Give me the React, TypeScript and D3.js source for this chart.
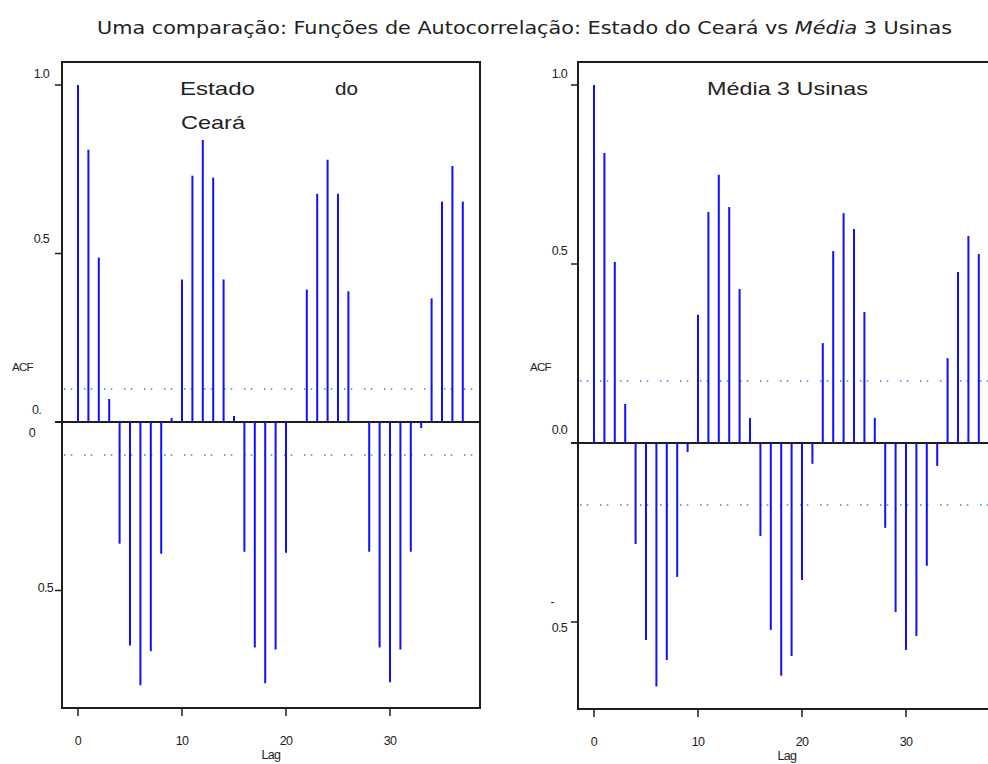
import React from "react";
import * as d3 from "d3";

// Autocorrelation values by lag (0..37)
const lags: number[] = d3.range(0, 38);

const acfCeara: number[] = [
  1.0, 0.808, 0.488, 0.068, -0.361, -0.663, -0.781, -0.68, -0.391, 0.012,
  0.423, 0.731, 0.837, 0.725, 0.423, 0.018, -0.385, -0.669, -0.775, -0.675,
  -0.388, 0.0, 0.393, 0.677, 0.778, 0.677, 0.388, 0.0, -0.385, -0.669,
  -0.772, -0.675, -0.385, -0.018, 0.367, 0.654, 0.76, 0.654,
];

const acfUsinas: number[] = [
  1.0, 0.81, 0.506, 0.109, -0.282, -0.55, -0.68, -0.606, -0.374, -0.025,
  0.358, 0.645, 0.749, 0.659, 0.43, 0.07, -0.26, -0.522, -0.65, -0.595,
  -0.383, -0.058, 0.279, 0.536, 0.642, 0.598, 0.366, 0.07, -0.237, -0.472,
  -0.578, -0.539, -0.343, -0.064, 0.237, 0.478, 0.578, 0.528,
];

const confCeara = 0.098;
const confUsinas = 0.173;

const xTicks: number[] = [0, 10, 20, 30];

const BAR = "#1010ff";
const CONF = "#3d8fe0";
const AXIS = "#1e1e1e";
const FONT = "'Liberation Sans', Arial, sans-serif";

type YLabel = { text: string; x: number; y: number; clipLeft?: number };

type PanelProps = {
  id: string;
  values: number[];
  conf: number;
  frame: { left: number; top: number; right: number; bottom: number };
  x0: number;
  y0: number;
  yOne: number;
  yTicks: number[];
  yLabels: YLabel[];
  acfX: number;
  lagX: number;
};

function Panel(p: PanelProps) {
  const x = d3.scaleLinear().domain([0, 30]).range([p.x0, p.x0 + 312]);
  const y = d3.scaleLinear().domain([0, 1]).range([p.y0, p.yOne]);
  const { left, top, right, bottom } = p.frame;

  return (
    <g>
      <defs>
        <clipPath id={`clip-${p.id}`}>
          <rect x={left - 34} y={0} width={60} height={764} />
        </clipPath>
      </defs>
      {/* confidence bounds */}
      {[p.conf, -p.conf].map((c, i) => (
        <line
          key={i}
          x1={left + 2}
          x2={right}
          y1={y(c)}
          y2={y(c)}
          stroke={CONF}
          strokeWidth={1.6}
          strokeDasharray="1.6,5.1,1.6,11.7"
        />
      ))}
      {/* zero line */}
      <line x1={left - 7} x2={right} y1={y(0)} y2={y(0)} stroke={AXIS} strokeWidth={2} />
      {/* ACF spikes */}
      {lags.map((l) => (
        <line
          key={l}
          x1={x(l)}
          x2={x(l)}
          y1={y(0)}
          y2={y(p.values[l])}
          stroke={BAR}
          strokeWidth={2}
        />
      ))}
      {/* frame */}
      <rect
        x={left}
        y={top}
        width={right - left}
        height={bottom - top}
        fill="none"
        stroke={AXIS}
        strokeWidth={2}
      />
      {/* y ticks */}
      {p.yTicks.map((t) => (
        <line key={t} x1={left - 7} x2={left} y1={y(t)} y2={y(t)} stroke={AXIS} strokeWidth={1.5} />
      ))}
      {p.yLabels.map((lb, i) => (
        <text
          key={i}
          x={lb.x}
          y={lb.y}
          fontFamily={FONT}
          fontSize={12.5}
          letterSpacing={-0.7}
          fill="#222"
          textAnchor="end"
          clipPath={lb.clipLeft ? `url(#clip-${p.id})` : undefined}
        >
          {lb.text}
        </text>
      ))}
      {/* x ticks */}
      {xTicks.map((t) => (
        <g key={t}>
          <line x1={x(t)} x2={x(t)} y1={bottom} y2={bottom + 8} stroke={AXIS} strokeWidth={1.5} />
          <text
            x={x(t)}
            y={bottom + 37}
            fontFamily={FONT}
            fontSize={12.5}
            letterSpacing={-0.7}
            textAnchor="middle"
            fill="#222"
          >
            {t}
          </text>
        </g>
      ))}
      <text x={p.lagX} y={bottom + 51} fontFamily={FONT} fontSize={12.5} letterSpacing={-0.7} textAnchor="middle" fill="#222">
        Lag
      </text>
      <text x={p.acfX} y={371} fontFamily={FONT} fontSize={11.5} letterSpacing={-0.7} fill="#222">
        ACF
      </text>
    </g>
  );
}

export default function App() {
  return (
    <svg
      width={988}
      height={764}
      style={{ position: "absolute", left: 0, top: 0, background: "#fff" }}
    >
      <rect width={988} height={764} fill="#fff" />
      <text
        x={97}
        y={34}
        fontFamily="'Liberation Sans Narrow', 'DejaVu Sans Condensed', 'Liberation Sans', sans-serif"
        fontSize={18}
        fill="#222"
        textLength={855}
        lengthAdjust="spacingAndGlyphs"
      >
        Uma comparação: Funções de Autocorrelação: Estado do Ceará vs{" "}
        <tspan fontStyle="italic">Média</tspan> 3 Usinas
      </text>

      <Panel
        id="ce"
        values={acfCeara}
        conf={confCeara}
        frame={{ left: 62, top: 62, right: 480, bottom: 708 }}
        x0={78}
        y0={422}
        yOne={85}
        yTicks={[1, 0.5, -0.5]}
        yLabels={[
          { text: "1.0", x: 49, y: 78 },
          { text: "0.5", x: 49, y: 243 },
          { text: "0.", x: 41, y: 414, clipLeft: 1 },
          { text: "0", x: 35, y: 437, clipLeft: 1 },
          { text: "0.5", x: 53, y: 592, clipLeft: 1 },
        ]}
        acfX={12}
        lagX={271}
      />
      <Panel
        id="us"
        values={acfUsinas}
        conf={confUsinas}
        frame={{ left: 578, top: 62, right: 1000, bottom: 709 }}
        x0={594}
        y0={443}
        yOne={85}
        yTicks={[1, 0.5, 0, -0.5]}
        yLabels={[
          { text: "1.0", x: 567, y: 78 },
          { text: "0.5", x: 567, y: 255 },
          { text: "0.0", x: 567, y: 434 },
          { text: "-", x: 554, y: 606 },
          { text: "0.5", x: 567, y: 632 },
        ]}
        acfX={530}
        lagX={787}
      />

      {/* panel labels */}
      <g fontFamily={FONT} fontSize={19} fill="#222">
        <text x={180} y={95} textLength={75} lengthAdjust="spacingAndGlyphs">Estado</text>
        <text x={335} y={95} textLength={23} lengthAdjust="spacingAndGlyphs">do</text>
        <text x={181} y={129} textLength={64} lengthAdjust="spacingAndGlyphs">Ceará</text>
        <text x={707} y={95} textLength={161} lengthAdjust="spacingAndGlyphs">Média 3 Usinas</text>
      </g>
    </svg>
  );
}
